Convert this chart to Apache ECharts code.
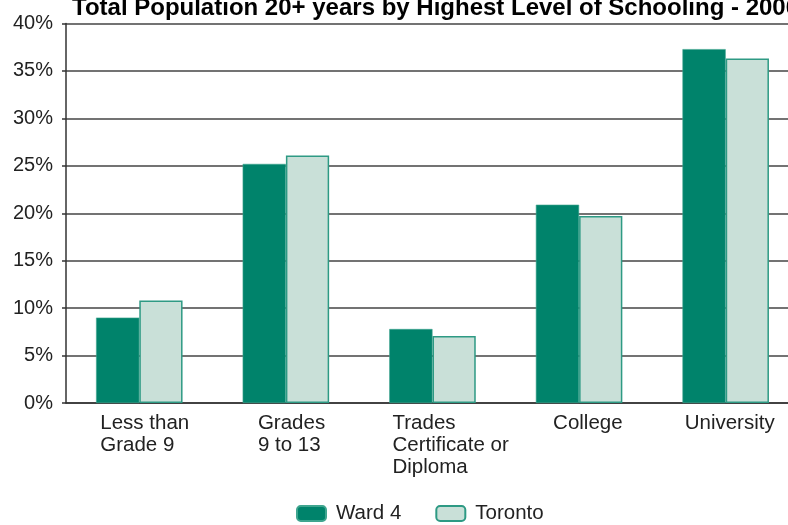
<!DOCTYPE html>
<html>
<head>
<meta charset="utf-8">
<script src="https://cdn.jsdelivr.net/npm/echarts@6/dist/echarts.min.js"></script>
<style>html,body{margin:0;padding:0;background:#fff}#c{width:788px;height:525px}</style>
</head>
<body>
<div id="c"></div>
<script>
var categories = ['Less than\nGrade 9', 'Grades\n9 to 13', 'Trades\nCertificate or\nDiploma', 'College', 'University'];
var labelShift = [-39, -28, -40, -26, -41];
var ward4 = [9.0, 25.2, 7.8, 20.9, 37.3];
var toronto = [10.8, 26.1, 7.05, 19.7, 36.3];
var yTicks = [0, 5, 10, 15, 20, 25, 30, 35, 40];
var titleText = 'Total Population 20+ years by Highest Level of Schooling - 2006';

var font = 'Liberation Sans, Arial, sans-serif';
var rich = {};
labelShift.forEach(function (s, i) {
  rich['r' + i] = {width: -2 * s, align: 'left', fontFamily: font, fontSize: 20.5, lineHeight: 22, color: '#222'};
});
var chart = echarts.init(document.getElementById('c'), null, {renderer: 'canvas'});
chart.setOption({
  animation: false,
  title: {
    text: titleText,
    left: 72, top: -4, padding: 0,
    textStyle: {fontFamily: font, fontSize: 24, fontWeight: 'bold', color: '#000'}
  },
  grid: {left: 66, width: 733, top: 23.5, bottom: 122, containLabel: false, outerBoundsMode: 'none'},
  legend: {
    bottom: -4, left: 291,
    itemWidth: 29, itemHeight: 15, itemGap: 34,
    textStyle: {fontFamily: font, fontSize: 20.5, color: '#222', padding: [0, 0, 0, 5]},
    data: ['Ward 4', 'Toronto']
  },
  xAxis: {
    type: 'category',
    data: categories,
    axisLine: {lineStyle: {color: '#333', width: 1.5}},
    axisTick: {show: false},
    axisLabel: {
      interval: 0, margin: 9, fontFamily: font, fontSize: 20.5, lineHeight: 22, color: '#222',
      formatter: function (v, i) {
        return v.split('\n').map(function (l) { return '{r' + i + '|' + l + '}'; }).join('\n');
      },
      rich: rich
    }
  },
  yAxis: {
    type: 'value', min: yTicks[0], max: yTicks[yTicks.length - 1], interval: 5,
    axisLine: {show: true, lineStyle: {color: '#333', width: 1.5}},
    axisTick: {show: true, length: 4, lineStyle: {color: '#333', width: 1.5}},
    splitLine: {lineStyle: {color: '#444', width: 1.5}},
    axisLabel: {margin: 13, fontFamily: font, fontSize: 20, color: '#222', formatter: '{value}%'}
  },
  series: [
    {name: 'Ward 4', type: 'bar', data: ward4, barGap: '0%', barCategoryGap: '41%',
     itemStyle: {color: '#00836B', borderColor: '#3FA58F', borderWidth: 0.6}},
    {name: 'Toronto', type: 'bar', data: toronto,
     itemStyle: {color: '#C9E0D8', borderColor: '#2E9A84', borderWidth: 1.5}}
  ]
});
</script>
</body>
</html>
